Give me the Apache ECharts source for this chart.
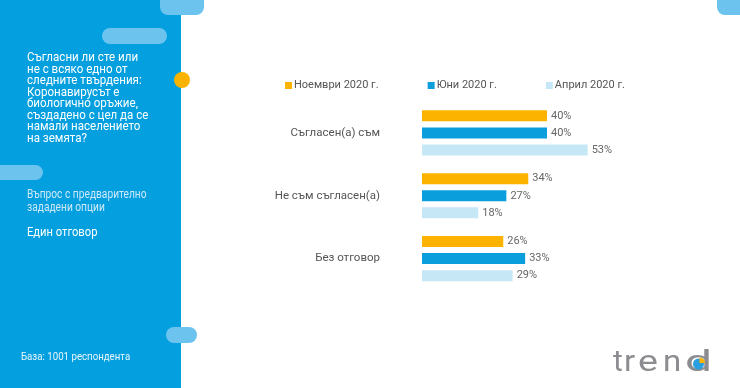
<!DOCTYPE html>
<html><head><meta charset="utf-8">
<script src="https://cdn.jsdelivr.net/npm/echarts@6/dist/echarts.min.js"></script>
<style>html,body{margin:0;padding:0;background:#fff}#c{width:740px;height:388px}</style>
</head><body><div id="c"></div>
<script>
const categories = ['Съгласен(а) съм', 'Не съм съгласен(а)', 'Без отговор'];
const seriesNames = ['Ноември 2020 г.', 'Юни 2020 г.', 'Април 2020 г.'];
const nov2020 = [40, 34, 26];
const jun2020 = [40, 27, 33];
const apr2020 = [53, 18, 29];
const colors = ['#fbb300', '#0a9fdc', '#c6e7f6'];

const chart = echarts.init(document.getElementById('c'));
const font = 'Roboto, "Noto Sans", sans-serif';
const questionLines = ['Съгласни ли сте или','не с всяко едно от','следните твърдения:','Коронавирусът е','биологично оръжие,','създадено с цел да се','намали населението','на земята?'];

const logoLetters = [['t', 613, 1.0], ['r', 624, 1.1], ['e', 638, 1.25], ['n', 663, 1.1], ['d', 685, 1.6]];
const logoGraphics = logoLetters.map(([ch, x, s]) => ({
  type: 'text', x: x, y: 348, scaleX: s, style: { text: ch, fill: '#8d8d91', font: '30px ' + font }
}));

chart.setOption({
  animation: false,
  textStyle: { fontFamily: font },
  legend: {
    left: 280, top: 75, itemGap: 49, itemWidth: 7, itemHeight: 7,
    icon: 'rect',
    textStyle: { color: '#555', fontSize: 11, fontFamily: font, padding: [0, 0, 0, -3] },
    data: seriesNames
  },
  grid: { left: 422, right: 5.5, top: 101.5, bottom: 98, containLabel: false },
  xAxis: { type: 'value', min: 0, max: 100, show: false },
  yAxis: {
    type: 'category', data: categories, inverse: true,
    axisLine: { show: false }, axisTick: { show: false },
    axisLabel: { margin: 42, color: '#555', fontSize: 11.5, fontFamily: font }
  },
  series: [nov2020, jun2020, apr2020].map((d, i) => ({
    name: seriesNames[i], type: 'bar', data: d, barWidth: 11, barGap: '55%',
    itemStyle: { color: colors[i] },
    label: { show: true, position: 'right', distance: 4, formatter: '{c}%', color: '#666', fontSize: 11, fontFamily: font }
  })),
  graphic: [
    { type: 'rect', shape: { x: 0, y: 0, width: 181, height: 388 }, style: { fill: '#039fdf' }, z: -10 },
    { type: 'rect', shape: { x: 160, y: -10, width: 44, height: 25, r: 8 }, style: { fill: '#6cc4ee' } },
    { type: 'rect', shape: { x: 102, y: 28, width: 65, height: 16, r: 8 }, style: { fill: '#6cc4ee' } },
    { type: 'rect', shape: { x: -10, y: 165, width: 53, height: 15, r: 7.5 }, style: { fill: '#6cc4ee' } },
    { type: 'rect', shape: { x: 166, y: 327, width: 31, height: 16, r: 8 }, style: { fill: '#6cc4ee' } },
    { type: 'rect', shape: { x: 717, y: -10, width: 40, height: 25, r: 8 }, style: { fill: '#6cc4ee' } },
    { type: 'circle', shape: { cx: 182, cy: 80, r: 8 }, style: { fill: '#fbb300' } },
    { type: 'text', x: 27, y: 52, scaleX: 0.89, style: { text: questionLines.join('\n'), fill: '#fff', font: '13px ' + font, lineHeight: 11.5 } },
    { type: 'text', x: 27, y: 189, scaleX: 0.85, style: { text: 'Въпрос с предварително\nзададени опции', fill: '#cfe9f8', font: '12px ' + font, lineHeight: 12.5 } },
    { type: 'text', x: 27, y: 226, scaleX: 0.86, style: { text: 'Един отговор', fill: '#fff', font: '13px ' + font } },
    { type: 'text', x: 21, y: 352, scaleX: 0.88, style: { text: 'База: 1001 респондента', fill: '#eaf6fd', font: '11px ' + font } }
  ].concat(logoGraphics).concat([
    { type: 'circle', shape: { cx: 698.5, cy: 364, r: 5.5 }, style: { fill: '#2a9fe0' }, z: 10 },
    { type: 'sector', shape: { cx: 699.5, cy: 363, r: 5.5, startAngle: -Math.PI / 2, endAngle: 0 }, style: { fill: '#fbb300' }, z: 10 }
  ])
});
</script></body></html>
